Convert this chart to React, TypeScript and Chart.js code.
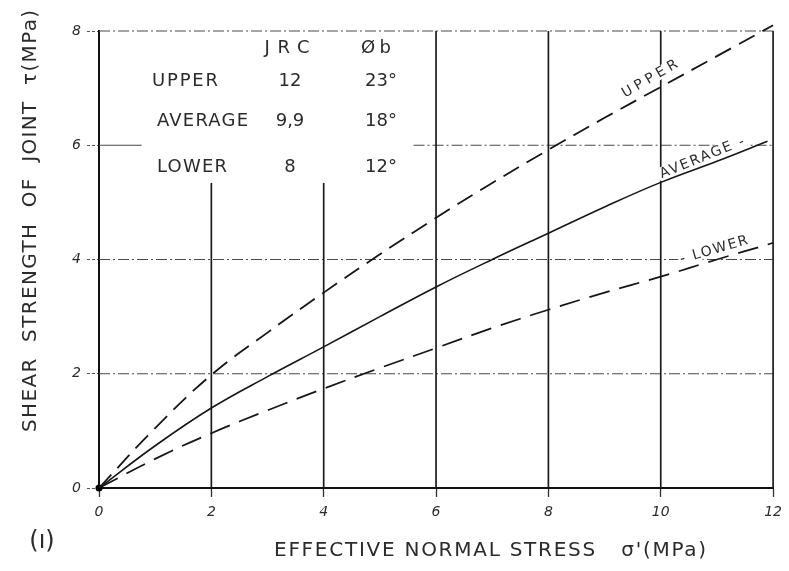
import React, { useEffect, useRef } from 'react';
import { Chart, registerables } from 'chart.js';

Chart.register(...registerables);

// ---- data ----
const upperX = [0, 1, 2, 3, 4, 5, 6, 7, 8, 9, 10, 11, 12, 12.15];
const upperY = [0, 1.05, 1.98, 2.72, 3.42, 4.09, 4.73, 5.34, 5.92, 6.48, 7.02, 7.56, 8.1, 8.18];
const averageX = [0, 1, 2, 3, 4, 5, 6, 7, 8, 9, 10, 11, 11.9];
const averageY = [0, 0.74, 1.4, 1.95, 2.47, 3.0, 3.52, 4.0, 4.46, 4.92, 5.35, 5.72, 6.07];
const lowerX = [0, 1, 2, 3, 4, 5, 6, 7, 8, 9, 10, 11, 12];
const lowerY = [0, 0.51, 0.96, 1.36, 1.74, 2.1, 2.45, 2.8, 3.12, 3.42, 3.7, 4.0, 4.29];

const xTicks = [0, 2, 4, 6, 8, 10, 12];
const yTicks = [0, 2, 4, 6, 8];

const tableHeader = ['JRC', 'Øb'];
const tableRows = ['UPPER', 'AVERAGE', 'LOWER'];
const tableJRC = ['12', '9,9', '8'];
const tablePhi = ['23°', '18°', '12°'];

const curveLabels = ['UPPER', 'AVERAGE -', '- LOWER'];

const yTitle = 'SHEAR  STRENGTH  OF  JOINT  τ(MPa)';
const xTitle = 'EFFECTIVE NORMAL STRESS   σ\'(MPa)';
const panelLabel = '(ı)';

const INK = '#2b2b2b';
const FONT = '"DejaVu Sans", sans-serif';

function spaced(ctx: CanvasRenderingContext2D, text: string, left: number, baseY: number, width?: number) {
  (ctx as any).letterSpacing = '0px';
  const w = ctx.measureText(text).width;
  const n = Array.from(text).length;
  if (width && n > 1 && width > w) {
    (ctx as any).letterSpacing = ((width - w) / (n - 1)).toFixed(2) + 'px';
  }
  ctx.textAlign = 'left';
  ctx.fillText(text, left, baseY);
  (ctx as any).letterSpacing = '0px';
}

function centeredSpaced(ctx: CanvasRenderingContext2D, text: string, cx: number, cy: number, width: number) {
  ctx.textBaseline = 'middle';
  (ctx as any).letterSpacing = '0px';
  const w = ctx.measureText(text).width;
  const real = Math.max(w, width);
  spaced(ctx, text, cx - real / 2, cy, real);
}

const paperPlugin = {
  id: 'paper',
  beforeDatasetsDraw(chart: any) {
    const { ctx, scales } = chart;
    const x = scales.x;
    const y = scales.y;
    ctx.save();
    // horizontal dash-dot grid
    ctx.strokeStyle = '#4a4a4a';
    ctx.lineWidth = 1.1;
    ctx.setLineDash([11, 3, 2, 3]);
    const hseg = (v: number, a: number, b: number) => {
      ctx.beginPath();
      ctx.moveTo(x.getPixelForValue(a), y.getPixelForValue(v));
      ctx.lineTo(x.getPixelForValue(b), y.getPixelForValue(v));
      ctx.stroke();
    };
    hseg(2, 0, 12);
    hseg(4, 0, 12);
    hseg(8, 0, 12);
    hseg(6, 5.6, 12);
    ctx.setLineDash([]);
    hseg(6, 0, 0.76);
    // vertical solid grid
    ctx.strokeStyle = '#1c1c1c';
    ctx.lineWidth = 1.7;
    const vseg = (v: number, a: number, b: number) => {
      ctx.beginPath();
      ctx.moveTo(x.getPixelForValue(v), y.getPixelForValue(a));
      ctx.lineTo(x.getPixelForValue(v), y.getPixelForValue(b));
      ctx.stroke();
    };
    vseg(2, 0, 5.34);
    vseg(4, 0, 5.34);
    vseg(6, 0, 8);
    vseg(8, 0, 8);
    vseg(10, 0, 8);
    vseg(12, 0, 8);
    ctx.restore();
  },
  afterDatasetsDraw(chart: any) {
    const { ctx, scales } = chart;
    const x = scales.x;
    const y = scales.y;
    ctx.save();
    ctx.fillStyle = INK;
    // table
    ctx.font = `18px ${FONT}`;
    const px = (v: number) => x.getPixelForValue(v);
    const py = (v: number) => y.getPixelForValue(v);
    const base = { x0: px(0), y0: py(8) };
    const cell = (t: string, cx: number, cy: number, w: number) => centeredSpaced(ctx, t, cx, cy, w);
    cell(tableHeader[0], base.x0 + 188, base.y0 + 17, 45);
    cell(tableHeader[1], base.x0 + 277, base.y0 + 17, 30);
    const rowY = [50, 90, 136];
    const rowLeft = [53, 58, 58];
    const rowW = [66, 91, 70];
    tableRows.forEach((r, i) => {
      ctx.textBaseline = 'middle';
      spaced(ctx, r, base.x0 + rowLeft[i], base.y0 + rowY[i], rowW[i]);
      cell(tableJRC[i], base.x0 + 191, base.y0 + rowY[i], 0);
      cell(tablePhi[i], base.x0 + 282, base.y0 + rowY[i], 32);
    });

    // curve labels (rotated, with paper background)
    const labelSpec = [
      { t: curveLabels[0], cx: 650, cy: 79, rot: -30, w: 62 },
      { t: curveLabels[1], cx: 702, cy: 158, rot: -22, w: 90 },
      { t: curveLabels[2], cx: 714, cy: 250, rot: -16, w: 70 },
    ];
    ctx.font = `14px ${FONT}`;
    for (const l of labelSpec) {
      ctx.save();
      ctx.translate(l.cx, l.cy);
      ctx.rotate((l.rot * Math.PI) / 180);
      ctx.fillStyle = '#ffffff';
      ctx.fillRect(-l.w / 2 - 2, -7, l.w + 4, 13);
      ctx.fillStyle = INK;
      centeredSpaced(ctx, l.t, 0, 0, l.w);
      ctx.restore();
    }
    ctx.restore();
  },
  afterDraw(chart: any) {
    const { ctx } = chart;
    ctx.save();
    ctx.fillStyle = INK;
    ctx.font = `20px ${FONT}`;
    // y title
    ctx.save();
    ctx.translate(31, 221);
    ctx.rotate(-Math.PI / 2);
    centeredSpaced(ctx, yTitle, 0, 0, 422);
    ctx.restore();
    // x title
    centeredSpaced(ctx, xTitle, 490, 551, 432);
    // panel label
    ctx.font = `24px ${FONT}`;
    ctx.textAlign = 'center';
    ctx.textBaseline = 'middle';
    ctx.fillText(panelLabel, 42, 542);
    ctx.restore();
  },
};

export default function App() {
  const ref = useRef<HTMLCanvasElement | null>(null);
  useEffect(() => {
    if (!ref.current) return;
    const tickFont = { family: FONT, size: 14, style: 'italic' as const };
    const chart = new Chart(ref.current, {
      type: 'line',
      data: {
        datasets: [
          {
            label: 'UPPER',
            data: upperX.map((v, i) => ({ x: v, y: upperY[i] })),
            borderColor: '#161616',
            borderWidth: 1.8,
            borderDash: [18, 9],
            pointRadius: 0,
            tension: 0.4,
            clip: false as any,
          },
          {
            label: 'AVERAGE',
            data: averageX.map((v, i) => ({ x: v, y: averageY[i] })),
            borderColor: '#161616',
            borderWidth: 1.6,
            pointRadius: (c: any) => (c.dataIndex === 0 ? 3.5 : 0),
            pointBackgroundColor: '#000',
            pointBorderWidth: 0,
            tension: 0.4,
            clip: false as any,
          },
          {
            label: 'LOWER',
            data: lowerX.map((v, i) => ({ x: v, y: lowerY[i] })),
            borderColor: '#161616',
            borderWidth: 1.7,
            borderDash: [21, 10],
            pointRadius: 0,
            tension: 0.4,
          },
        ],
      },
      options: {
        animation: false,
        responsive: false,
        devicePixelRatio: 1,
        layout: { padding: { top: 31, right: 9, left: 0, bottom: 0 } },
        plugins: { legend: { display: false }, tooltip: { enabled: false } },
        scales: {
          x: {
            type: 'linear',
            min: 0,
            max: 12,
            afterFit: (s: any) => {
              s.height = 83;
            },
            afterBuildTicks: (s: any) => {
              s.ticks = xTicks.map((v) => ({ value: v }));
            },
            ticks: { color: INK, font: tickFont, padding: 7, maxRotation: 0, autoSkip: false },
            grid: { drawOnChartArea: false, drawTicks: true, tickLength: 9, tickColor: '#333', tickWidth: 1.3 },
            border: { display: true, color: '#111', width: 2 },
          },
          y: {
            type: 'linear',
            min: 0,
            max: 8,
            afterFit: (s: any) => {
              s.width = 99;
            },
            afterBuildTicks: (s: any) => {
              s.ticks = yTicks.map((v) => ({ value: v }));
            },
            ticks: { color: INK, font: tickFont, padding: 6 },
            grid: {
              drawOnChartArea: false,
              drawTicks: true,
              tickLength: 12,
              tickColor: '#555',
              tickWidth: 1.1,
              tickBorderDash: [3, 2],
            } as any,
            border: { display: true, color: '#111', width: 2 },
          },
        },
      },
      plugins: [paperPlugin],
    } as any);
    return () => chart.destroy();
  }, []);
  return (
    <div style={{ position: 'absolute', left: 0, top: 0, width: 789, height: 571, background: '#fff' }}>
      <canvas ref={ref} width={789} height={571} style={{ display: 'block' }} />
    </div>
  );
}
